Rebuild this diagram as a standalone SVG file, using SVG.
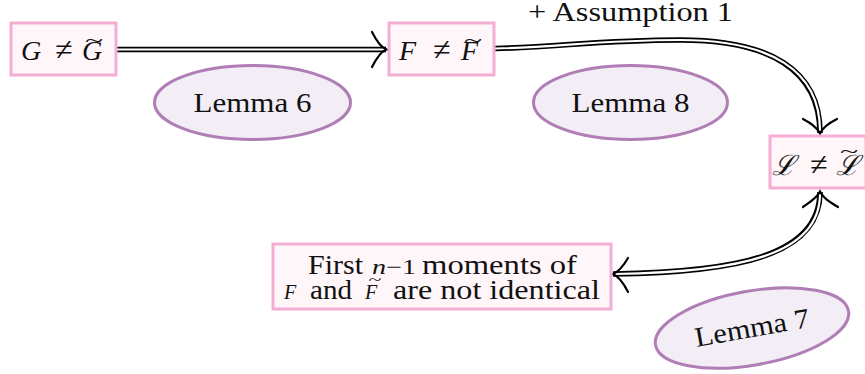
<svg xmlns="http://www.w3.org/2000/svg" width="865" height="374" viewBox="0 0 865 374">
<style>
.box{fill:#fff6fa;stroke:#f5aed3;stroke-width:3}
.ell{fill:#f3edf5;stroke:#b07db6;stroke-width:3}
text{font-family:"Liberation Serif","DejaVu Serif",serif;fill:#111}
.t{font-size:28px}
.b{font-size:27px}
.s{font-size:20px;font-style:italic}
.ne{font-size:32px}
.it{font-style:italic}
.mid{text-anchor:middle}
.tl{text-anchor:middle}
.outer{fill:none;stroke:#000;stroke-width:5.6}
.inner{fill:none;stroke:#fff;stroke-width:2.2}
.head{fill:none;stroke:#000;stroke-width:2.2;stroke-linecap:round}
</style>
<rect width="865" height="374" fill="#fff"/>
<g id="lemma6"><ellipse class="ell" cx="252.5" cy="102.5" rx="98" ry="37"/><text class="t mid" x="252.5" y="112" textLength="118" lengthAdjust="spacingAndGlyphs">Lemma 6</text></g>
<g id="lemma8"><ellipse class="ell" cx="630.5" cy="102.5" rx="97" ry="37"/><text class="t mid" x="630.5" y="112" textLength="118" lengthAdjust="spacingAndGlyphs">Lemma 8</text></g>
<g id="lemma7" transform="translate(752,328) rotate(-10)"><ellipse class="ell" cx="0" cy="0" rx="98" ry="37"/><text class="t mid" x="0" y="9" textLength="116" lengthAdjust="spacingAndGlyphs">Lemma 7</text></g>
<g id="connectors">
<path class="outer" d="M117,49.5 H386"/>
<path class="inner" d="M117,49.5 H385"/>
<path class="head" d="M372,32 C376,40 380,47 386.5,49.5 C380,52 376,59 372,67"/>
<path class="outer" d="M495,48.5 C560,47 600,40 680,40 C770,40 820,70 820,133"/>
<path class="inner" d="M495,48.5 C560,47 600,40 680,40 C770,40 820,70 820,131"/>
<path class="head" d="M803,119 C810,123 817,127 820,133.5 C823,127 829,123 837,119"/>
<path class="outer" d="M820,192 C820,255 740,272 613,274"/>
<path class="inner" d="M820,194 C820,255 740,272 615,274"/>
<path class="head" d="M803,207 C810,202 817,198 820,191.5 C823,198 830,202 838,207"/>
<path class="head" d="M628,258 C624,265 620,271 613,274 C620,277 624,284 628,292"/>
<text x="528" y="21" font-size="27" textLength="205" lengthAdjust="spacingAndGlyphs">+ Assumption 1</text>
</g>
<g id="nodeG"><rect class="box" x="11" y="23" width="105" height="52"/>
<text class="t it" x="21" y="60">G</text><text class="ne mid" x="64" y="60">≠</text><text class="t it" x="82" y="60">G</text>
<text class="tl" font-size="24" transform="translate(94,41.5) scale(1.4,0.8)" y="6.5">~</text></g>
<g id="nodeF"><rect class="box" x="389" y="23" width="105" height="52"/>
<text class="t it" x="399" y="60">F</text><text class="ne mid" x="442" y="60">≠</text><text class="t it" x="461" y="60">F</text>
<text class="tl" font-size="24" transform="translate(473,41.5) scale(1.4,0.8)" y="6.5">~</text></g>
<g id="nodeL"><rect class="box" x="770" y="136" width="96" height="52"/>
<text class="t it" x="772" y="175">ℒ</text><text class="ne mid" x="819" y="175">≠</text><text class="t it" x="836" y="175">ℒ</text>
<text class="tl" font-size="24" transform="translate(849,153) scale(1.4,0.8)" y="6.5">~</text></g>
<g id="nodeMoments"><rect class="box" x="273" y="244" width="338" height="65"/>
<text class="b" x="308" y="274" textLength="55" lengthAdjust="spacingAndGlyphs">First</text>
<text x="372" y="274" font-size="21" textLength="44" lengthAdjust="spacingAndGlyphs"><tspan font-style="italic">n</tspan>−1</text>
<text class="b" x="422" y="274" textLength="155" lengthAdjust="spacingAndGlyphs">moments of</text>
<text class="s" x="284" y="299">F</text>
<text class="b" x="310" y="299" textLength="42" lengthAdjust="spacingAndGlyphs">and</text>
<text class="s" x="365" y="299">F</text>
<text class="tl" font-size="20" transform="translate(375,281) scale(1.2,0.7)" y="5">~</text>
<text class="b" x="393" y="299" textLength="207" lengthAdjust="spacingAndGlyphs">are not identical</text>
</g>
</svg>
